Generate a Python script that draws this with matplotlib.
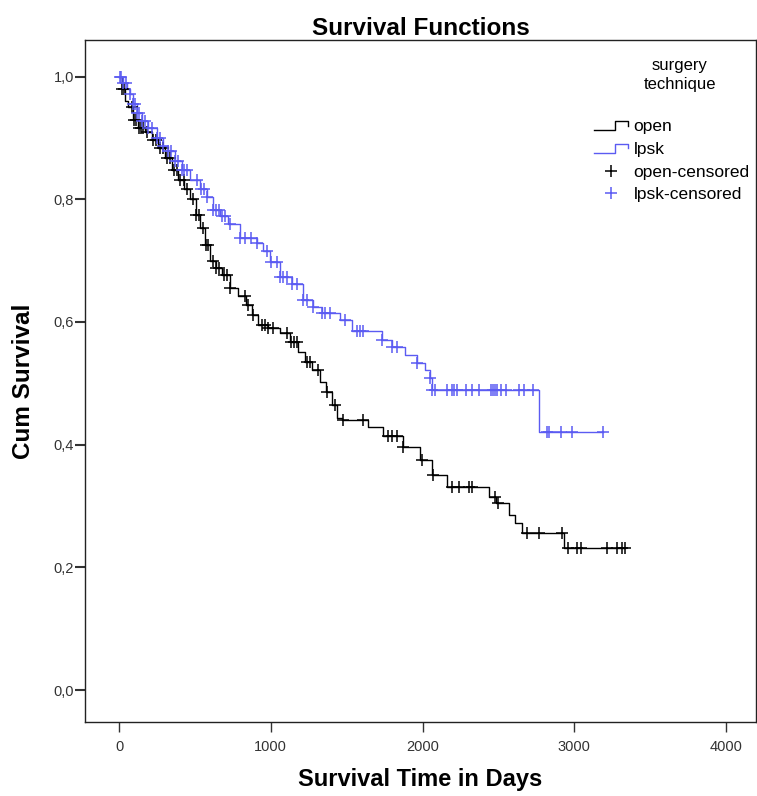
import numpy as np
import matplotlib
matplotlib.use("Agg")
import matplotlib.pyplot as plt
from matplotlib.lines import Line2D
from matplotlib.legend_handler import HandlerBase

# Kaplan-Meier steps (days, survival after the step)
open_t = [0, 20, 39, 59, 92, 125, 171, 217, 257, 303, 349, 388, 428, 467, 507, 533,
          566, 599, 638, 678, 730, 783, 836, 875, 914, 980, 1059, 1125, 1178, 1224,
          1270, 1322, 1362, 1401, 1434, 1467, 1638, 1737, 1868, 1980, 2059, 2158,
          2441, 2487, 2572, 2610, 2655, 2935]
open_s = [1.0, 0.98, 0.96, 0.95, 0.93, 0.917, 0.909, 0.897, 0.884, 0.868, 0.848, 0.832,
          0.816, 0.80, 0.775, 0.754, 0.726, 0.70, 0.688, 0.677, 0.656, 0.643, 0.628,
          0.612, 0.595, 0.59, 0.582, 0.568, 0.551, 0.535, 0.522, 0.502, 0.486, 0.465,
          0.444, 0.44, 0.429, 0.414, 0.396, 0.375, 0.351, 0.331, 0.315, 0.305, 0.285,
          0.272, 0.256, 0.232]
open_cens = [20, 35, 85, 100, 115, 130, 145, 160, 184, 224, 245, 270, 290, 316, 335,
             360, 380, 400, 425, 447, 487, 510, 530, 553, 570, 586, 618, 640, 660, 690,
             710, 730, 829, 850, 882, 941, 960, 980, 1013, 1105, 1130, 1150, 1171, 1237,
             1257, 1309, 1368, 1421, 1474, 1605, 1770, 1800, 1830, 1868, 1993, 2066,
             2191, 2243, 2309, 2329, 2480, 2500, 2691, 2770, 2920, 2960, 3020, 3046,
             3217, 3283, 3316, 3335]

lpsk_t = [0, 26, 53, 72, 92, 118, 151, 191, 250, 289, 322, 368, 414, 467, 533, 579,
          618, 664, 717, 796, 908, 947, 993, 1059, 1138, 1211, 1276, 1336, 1454, 1533,
          1730, 1796, 1882, 1961, 2013, 2046, 2059, 2770]
lpsk_s = [1.0, 0.989, 0.98, 0.971, 0.956, 0.941, 0.928, 0.917, 0.90, 0.887, 0.879,
          0.863, 0.847, 0.832, 0.816, 0.804, 0.783, 0.772, 0.759, 0.737, 0.729, 0.715,
          0.698, 0.674, 0.662, 0.636, 0.625, 0.615, 0.604, 0.586, 0.571, 0.560, 0.546,
          0.533, 0.522, 0.509, 0.489, 0.421]
lpsk_cens = [5, 12, 26, 45, 72, 92, 105, 118, 135, 151, 170, 191, 220, 250, 270, 289,
             322, 345, 368, 390, 414, 430, 447, 513, 540, 560, 579, 618, 640, 660, 680,
             700, 730, 796, 830, 870, 908, 974, 1000, 1039, 1059, 1079, 1105, 1138,
             1171, 1211, 1240, 1276, 1336, 1360, 1388, 1487, 1566, 1590, 1605, 1730,
             1796, 1829, 1961, 2046, 2065, 2079, 2164, 2191, 2204, 2230, 2289, 2329,
             2375, 2454, 2461, 2474, 2493, 2520, 2553, 2638, 2671, 2730, 2822, 2836,
             2914, 2987, 3190]

x_ticks = [0, 1000, 2000, 3000, 4000]
y_ticks = [0.0, 0.2, 0.4, 0.6, 0.8, 1.0]
y_ticklabels = ["0,0", "0,2", "0,4", "0,6", "0,8", "1,0"]

black = "#000000"
blue = "#5b5bf2"

plt.rcParams['font.family'] = ['Liberation Sans', 'DejaVu Sans']


def surv_at(t, s, times):
    idx = np.searchsorted(t, times, side="right") - 1
    return np.array(s)[idx]


class StepHandler(HandlerBase):
    # little step glyph like the one SPSS puts in its legend
    def create_artists(self, legend, orig_handle, xdescent, ydescent, width, height,
                       fontsize, trans):
        lo = -ydescent + 0.1 * height
        hi = -ydescent + 0.8 * height
        mid = -ydescent + 0.45 * height
        xs = np.array([0, 0.62, 0.62, 1.0, 1.0]) * width - xdescent
        ys = [lo, lo, hi, hi, mid]
        ln = Line2D(xs, ys, color=orig_handle.get_color(), lw=1.0, transform=trans)
        return [ln]


fig = plt.figure(figsize=(7.57, 7.96), dpi=100)
ax = fig.add_axes([0.1123, 0.093, 0.8864, 0.857])

# extend each curve to its last censored time
open_end = max(open_cens)
lpsk_end = max(lpsk_cens)
h_open, = ax.step(list(open_t) + [open_end], list(open_s) + [open_s[-1]],
                  where="post", color=black, lw=1.0)
h_lpsk, = ax.step(list(lpsk_t) + [lpsk_end], list(lpsk_s) + [lpsk_s[-1]],
                  where="post", color=blue, lw=1.0)
h_oc, = ax.plot(open_cens, surv_at(open_t, open_s, open_cens), ls="none",
                marker="+", ms=8, mew=1.1, color=black)
h_lc, = ax.plot(lpsk_cens, surv_at(lpsk_t, lpsk_s, lpsk_cens), ls="none",
                marker="+", ms=8, mew=1.1, color=blue)

ax.set_xlim(-224, 4197)
ax.set_ylim(-0.052, 1.06)
ax.set_xticks(x_ticks)
ax.set_yticks(y_ticks)
ax.set_yticklabels(y_ticklabels)
ax.tick_params(axis="x", length=7, width=1, colors="#333333", labelsize=10.5, pad=6)
ax.tick_params(axis="y", length=7, width=1.5, colors="#333333", labelsize=10.5, pad=1)
for sp in ax.spines.values():
    sp.set_linewidth(1.0)
    sp.set_color("#222222")

ax.set_title("Survival Functions", fontsize=17.5, fontweight="bold", pad=3)
ax.set_xlabel("Survival Time in Days", fontsize=17, fontweight="bold", labelpad=10)
ax.set_ylabel("Cum Survival", fontsize=17.5, fontweight="bold", labelpad=13)

leg = ax.legend([h_open, h_lpsk, h_oc, h_lc],
                ["open", "lpsk", "open-censored", "lpsk-censored"],
                handler_map={h_open: StepHandler(), h_lpsk: StepHandler()},
                loc="upper left", bbox_to_anchor=(0.758, 0.884), frameon=False,
                fontsize=12.5, handlelength=2.0, handletextpad=0.3, labelspacing=0.44,
                borderaxespad=0, borderpad=0)
fig.text(0.898, 0.906, "surgery\ntechnique", ha="center", va="center", fontsize=12,
         linespacing=1.3)

fig.savefig("out.png", dpi=100)
